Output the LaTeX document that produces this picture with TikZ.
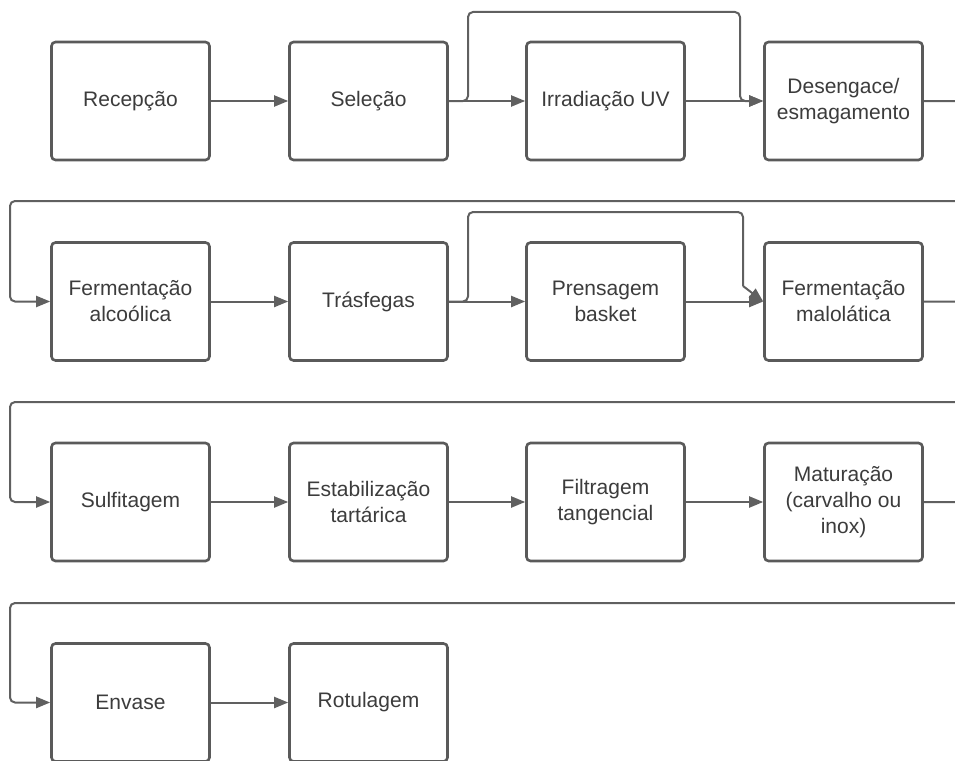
\documentclass[tikz,border=0pt]{standalone}
\usepackage{fontspec}
\setmainfont{Liberation Sans}
\usetikzlibrary{arrows.meta}
\definecolor{boxc}{HTML}{5A5A5A}
\definecolor{linec}{HTML}{606060}
\definecolor{txtc}{HTML}{3C3C3C}
\tikzset{
  stepbox/.style={draw=boxc, line width=2.6pt, rounded corners=4pt, fill=white,
    minimum width=158pt, minimum height=118pt, inner sep=2pt, align=center,
    text=txtc, font=\fontsize{21}{26}\selectfont},
  conn/.style={draw=linec, line width=2pt, rounded corners=5pt,
    -{Triangle[length=14pt,width=11pt]}},
  plain/.style={draw=linec, line width=2pt, rounded corners=5pt}
}
\begin{document}
\begin{tikzpicture}[x=1pt,y=-1pt]
\useasboundingbox (0,0) rectangle (955,760);
\clip (0,0) rectangle (955,760);
% row 1
\node[stepbox] (rec) at (130.5,101) {Recepção};
\node[stepbox] (sel) at (368.5,101) {Seleção};
\node[stepbox] (irr) at (605.5,101) {Irradiação UV};
\node[stepbox] (des) at (843.5,101) {Desengace/\\esmagamento};
% row 2
\node[stepbox] (fal) at (130.5,301.5) {Fermentação\\alcoólica};
\node[stepbox] (tra) at (368.5,301.5) {Trásfegas};
\node[stepbox] (pre) at (605.5,301.5) {Prensagem\\basket};
\node[stepbox] (fml) at (843.5,301.5) {Fermentação\\malolática};
% row 3
\node[stepbox] (sul) at (130.5,502) {Sulfitagem};
\node[stepbox] (est) at (368.5,502) {Estabilização\\tartárica};
\node[stepbox] (fil) at (605.5,502) {Filtragem\\tangencial};
\node[stepbox] (mat) at (843.5,502) {Maturação\\(carvalho ou\\inox)};
% row 4
\node[stepbox] (env) at (130.5,702.5) {Envase};
\node[stepbox] (rot) at (368.5,702.5) {Rotulagem};
% straight arrows
\draw[conn] (rec.east) -- (sel.west);
\draw[conn] (sel.east) -- (irr.west);
\draw[conn] (irr.east) -- (des.west);
\draw[conn] (fal.east) -- (tra.west);
\draw[conn] (tra.east) -- (pre.west);
\draw[conn] (pre.east) -- (fml.west);
\draw[conn] (sul.east) -- (est.west);
\draw[conn] (est.east) -- (fil.west);
\draw[conn] (fil.east) -- (mat.west);
\draw[conn] (env.east) -- (rot.west);
% bypasses
\draw[conn] (sel.east) -- (468,101) -- (468,12) -- (740,12) -- (740,101) -- (des.west);
\draw[plain] (tra.east) -- (468,301.5) -- (468,212) -- (743,212) -- (743,286);
\draw[draw=linec, line width=2pt, -{Triangle[length=14pt,width=11pt]}] (743,286) -- (fml.west);
% returns
\draw[conn] (des.east) -- (985,101) -- (985,201) -- (10,201) -- (10,301.5) -- (fal.west);
\draw[conn] (fml.east) -- (985,301.5) -- (985,402) -- (10,402) -- (10,502) -- (sul.west);
\draw[conn] (mat.east) -- (985,502) -- (985,603) -- (10,603) -- (10,702.5) -- (env.west);
\end{tikzpicture}
\end{document}
